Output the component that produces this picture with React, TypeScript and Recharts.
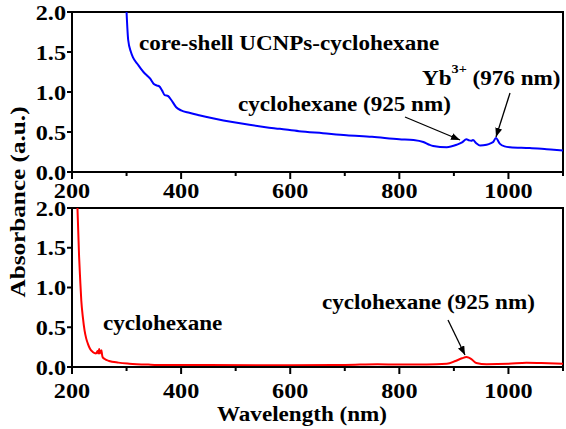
import React from "react"
import { LineChart, Line, XAxis, YAxis, ReferenceArea } from "recharts"

// core-shell UCNPs in cyclohexane (top panel)
const shellWavelength = [300, 303, 308, 312, 320, 331, 337, 343, 350, 356, 360, 365, 370, 376, 382, 391, 400, 415, 433, 460, 494, 525, 555, 581, 616, 660, 703, 750, 800, 826, 844, 855, 862, 887, 905, 915, 923, 928, 932, 935, 941, 948, 960, 968, 972, 977, 984, 993, 1003, 1039, 1070, 1100]
const shellAbsorbance = [2.0, 1.65, 1.5, 1.43, 1.35, 1.25, 1.21, 1.17, 1.1, 1.08, 1.07, 1.02, 0.96, 0.95, 0.9, 0.81, 0.77, 0.74, 0.71, 0.67, 0.625, 0.59, 0.56, 0.54, 0.51, 0.485, 0.46, 0.44, 0.41, 0.4, 0.375, 0.34, 0.325, 0.31, 0.34, 0.37, 0.41, 0.395, 0.39, 0.4, 0.36, 0.33, 0.34, 0.36, 0.375, 0.425, 0.354, 0.32, 0.31, 0.3, 0.285, 0.27]

// pure cyclohexane (bottom panel)
const solventWavelength = [210, 213, 215, 217, 220, 223, 226, 229, 233, 238, 244, 246, 247, 248, 249, 250, 251, 252, 253, 254, 255, 256, 260, 268, 285, 305, 340, 366, 450, 600, 700, 760, 800, 850, 887, 903, 915, 923, 928, 932, 941, 960, 1000, 1033, 1060, 1100]
const solventAbsorbance = [2.0, 1.39, 1.1, 0.84, 0.62, 0.46, 0.36, 0.295, 0.23, 0.19, 0.17, 0.19, 0.2, 0.17, 0.2, 0.225, 0.17, 0.2, 0.19, 0.21, 0.16, 0.126, 0.1, 0.076, 0.055, 0.042, 0.03, 0.025, 0.025, 0.022, 0.025, 0.035, 0.03, 0.03, 0.04, 0.076, 0.11, 0.126, 0.115, 0.1, 0.05, 0.034, 0.04, 0.055, 0.05, 0.04]

const xTicks = [200, 300, 400, 500, 600, 700, 800, 900, 1000, 1100]
const yTicks = [0, 0.5, 1, 1.5, 2]

const shellData = shellWavelength.map((w, i) => ({ w, a: shellAbsorbance[i] }))
const solventData = solventWavelength.map((w, i) => ({ w, a: solventAbsorbance[i] }))

const FONT = "'Liberation Serif', 'Times New Roman', serif"

const XTick = (props: any) => {
  const { x, y, payload, labelOffset } = props
  const major = payload.value % 200 === 0
  return (
    <g>
      <line x1={x} x2={x} y1={y} y2={y + (major ? 7 : 4)} stroke="#000" strokeWidth={2} />
      {major && (
        <text transform={`translate(${x},${y + labelOffset}) scale(1.1,1)`} textAnchor="middle" dy="0.35em"
          fontFamily={FONT} fontWeight="bold" fontSize={22} fill="#000">
          {payload.value}
        </text>
      )}
    </g>
  )
}

const YTick = (props: any) => {
  const { x, y, payload } = props
  return (
    <g>
      <line x1={x - 5} x2={x} y1={y} y2={y} stroke="#000" strokeWidth={2} />
      <text transform={`translate(${x - 6},${y}) scale(1.1,1)`} textAnchor="end" dy="0.35em"
        fontFamily={FONT} fontWeight="bold" fontSize={22} fill="#000">
        {payload.value.toFixed(1)}
      </text>
    </g>
  )
}

const Panel = ({ data, color, height, xHeight, labelOffset }: any) => (
  <LineChart width={566} height={height} data={data} margin={{ top: 12, right: 3, left: 12, bottom: 0 }}>
    <XAxis dataKey="w" type="number" domain={[200, 1100]} ticks={xTicks} interval={0} height={xHeight}
      tickSize={0} tickMargin={0} axisLine={{ stroke: "#000", strokeWidth: 2 }}
      tick={<XTick labelOffset={labelOffset} />} allowDataOverflow />
    <YAxis type="number" domain={[0, 2]} ticks={yTicks} interval={0} width={60}
      tickSize={0} tickMargin={0} axisLine={{ stroke: "#000", strokeWidth: 2 }}
      tick={<YTick />} allowDataOverflow />
    <ReferenceArea x1={200} x2={1100} y1={0} y2={2} fill="none" stroke="#000" strokeWidth={2} />
    <Line dataKey="a" type="monotone" stroke={color} strokeWidth={2} dot={false} isAnimationActive={false} />
  </LineChart>
)

const textStyle = { fontFamily: FONT, fontWeight: "bold" as const, fontSize: 21, fill: "#000" }

const Label = ({ x, y, children, sx = 1.1 }: any) => (
  <text transform={`translate(${x},${y}) scale(${sx},1)`} style={textStyle}>{children}</text>
)

export default function App() {
  return (
    <div style={{ position: "absolute", left: 0, top: 0, width: 566, height: 429, background: "#fff" }}>
      <div style={{ position: "absolute", left: 0, top: 0 }}>
        <Panel data={shellData} color="#0000ff" height={212} xHeight={40} labelOffset={18} />
      </div>
      <div style={{ position: "absolute", left: 0, top: 196 }}>
        <Panel data={solventData} color="#ff0000" height={233} xHeight={62} labelOffset={23} />
      </div>
      <svg width={566} height={429} style={{ position: "absolute", left: 0, top: 0, pointerEvents: "none" }}>
        <defs>
          <marker id="arrow" markerWidth={9} markerHeight={7} refX={9} refY={3.5} orient="auto" markerUnits="userSpaceOnUse">
            <path d="M0,0 L9,3.5 L0,7 z" fill="#000" />
          </marker>
        </defs>
        <Label x={139} y={50}>core-shell UCNPs-cyclohexane</Label>
        <Label x={238} y={111}>cyclohexane (925 nm)</Label>
        <text transform="translate(422,85) scale(1.1,1)" style={textStyle}>
          Yb<tspan fontSize={13} dy={-12}>3+</tspan><tspan dy={12}> (976 nm)</tspan>
        </text>
        <line x1={405} y1={117} x2={460} y2={140} stroke="#000" strokeWidth={1.3} markerEnd="url(#arrow)" />
        <line x1={510} y1={93} x2={496} y2={137} stroke="#000" strokeWidth={1.3} markerEnd="url(#arrow)" />
        <Label x={103} y={330}>cyclohexane</Label>
        <Label x={322} y={309}>cyclohexane (925 nm)</Label>
        <line x1={448} y1={320} x2={465} y2={355} stroke="#000" strokeWidth={1.3} markerEnd="url(#arrow)" />
        <Label x={217} y={421}>Wavelength (nm)</Label>
        <text transform="translate(25,202) rotate(-90) scale(1.2,1)" textAnchor="middle" style={textStyle}>
          Absorbance (a.u.)
        </text>
      </svg>
    </div>
  )
}
